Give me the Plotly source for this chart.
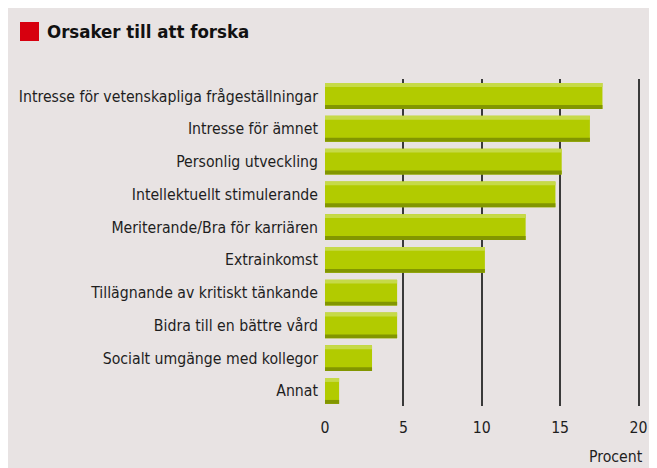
import plotly.graph_objects as go

categories = [
    "Intresse för vetenskapliga frågeställningar",
    "Intresse för ämnet",
    "Personlig utveckling",
    "Intellektuellt stimulerande",
    "Meriterande/Bra för karriären",
    "Extrainkomst",
    "Tillägnande av kritiskt tänkande",
    "Bidra till en bättre vård",
    "Socialt umgänge med kollegor",
    "Annat",
]
values = [17.7, 16.9, 15.1, 14.7, 12.8, 10.2, 4.6, 4.6, 3.0, 0.9]
tick_vals = [0, 5, 10, 15, 20]
tick_text = ["0", "5", "10", "15", "20"]

OFF = 8  # page body margin
W, H = 648, 460
L, R, T, B = 325 - OFF, 646 - OFF, 79 - OFF, 406 - OFF
BG = "#e8e3e3"
FONT = "Liberation Sans Narrow, DejaVu Sans Condensed, Arial Narrow, sans-serif"

def px(x):  # screenshot x -> paper
    return (x - OFF - L) / (R - L)

def py(y):  # screenshot y -> paper
    return (B - (y - OFF)) / (B - T)

bw = 0.79
hl = 0.12
fig = go.Figure()
fig.add_trace(go.Bar(y=categories, x=values, orientation="h", marker_color="#b2cb00",
                     marker_line_width=0, width=bw, offset=-bw / 2, hoverinfo="x+y"))
fig.add_trace(go.Bar(y=categories, x=values, orientation="h", marker_color="#c6da48",
                     marker_line_width=0, width=hl, offset=-bw / 2, hoverinfo="skip"))
fig.add_trace(go.Bar(y=categories, x=values, orientation="h", marker_color="#829600",
                     marker_line_width=0, width=hl, offset=bw / 2 - hl, hoverinfo="skip"))

fig.update_layout(
    width=W, height=H,
    margin=dict(l=L, r=W - R, t=T, b=H - B, pad=0),
    paper_bgcolor=BG,
    plot_bgcolor=BG,
    barmode="overlay",
    showlegend=False,
    font=dict(family=FONT, size=15.7, color="#1e1e1e"),
    xaxis=dict(
        range=[0, (R - L) / 15.675],
        tickmode="array", tickvals=tick_vals, ticktext=tick_text,
        showgrid=True, gridcolor="#3a3a3a", gridwidth=2,
        zeroline=True, zerolinecolor=BG, zerolinewidth=3,
        showline=False, ticks="", ticklabelstandoff=10,
        tickfont=dict(family=FONT, size=15.7, color="#1e1e1e"),
    ),
    yaxis=dict(
        type="category", categoryorder="array", categoryarray=categories,
        range=[9.46, -0.52],
        showgrid=False, zeroline=False, showline=False, ticks="",
        ticklabelstandoff=6,
        tickfont=dict(family=FONT, size=15.7, color="#1e1e1e"),
    ),
    shapes=[
        dict(type="rect", xref="paper", yref="paper",
             x0=px(20), x1=px(39), y0=py(41), y1=py(22),
             fillcolor="#d7000f", line_width=0),
    ],
    annotations=[
        dict(text="<b>Orsaker till att forska</b>", xref="paper", yref="paper",
             x=px(45), y=py(32), xanchor="left", yanchor="middle", showarrow=False,
             font=dict(family=FONT, size=18.5, color="#111111")),
        dict(text="Procent", xref="paper", yref="paper",
             x=px(645), y=py(456), xanchor="right", yanchor="middle", showarrow=False,
             font=dict(family=FONT, size=15.7, color="#1e1e1e")),
    ],
)

fig.write_html("out.html")
